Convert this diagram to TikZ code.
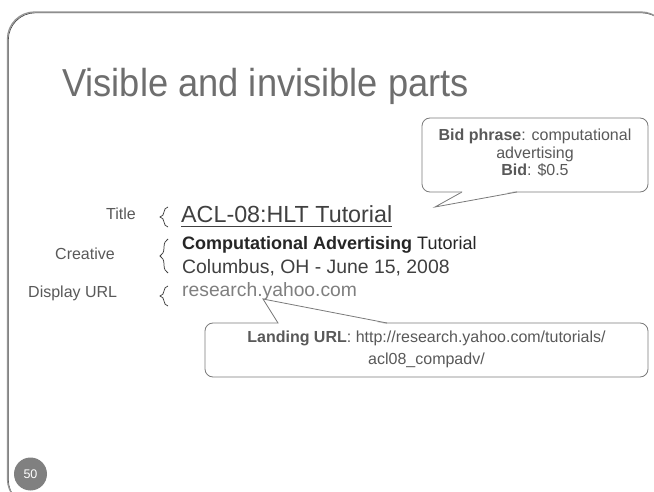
\documentclass[tikz,border=0pt]{standalone}
\usepackage{fontspec}
\usepackage{graphicx}
\setmainfont{Liberation Sans}
\usetikzlibrary{decorations.pathreplacing}
\definecolor{framecol}{HTML}{7A7A7A}
\definecolor{titlegray}{HTML}{6E6E6E}
\definecolor{lblgray}{HTML}{595959}
\definecolor{acltext}{HTML}{404040}
\definecolor{darktext}{HTML}{262626}
\definecolor{urlgray}{HTML}{7F7F7F}
\definecolor{numgray}{HTML}{808080}
\tikzset{
  lbl/.style={anchor=base west, inner sep=0pt, text=lblgray, font=\fontsize{16}{19}\selectfont},
  bodytxt/.style={anchor=base west, inner sep=0pt},
  bracestyle/.style={draw=acltext, line width=0.75pt, decorate, decoration={brace, amplitude=8pt, aspect=0.5}},
  calloutbox/.style={draw=framecol, line width=0.8pt, fill=white, rounded corners=8pt},
  callouttext/.style={align=center, inner sep=0pt, text=lblgray},
}
\begin{document}
\begin{tikzpicture}[x=1pt,y=-1pt]
\useasboundingbox (0,0) rectangle (654,492);
\clip (0,0) rectangle (654,492);
\fill[white] (0,0) rectangle (654,492);
% slide frame
\draw[black!75, line width=0.7pt, rounded corners=27pt] (8.3,12.8) rectangle (668.8,506.8);
\draw[framecol!80, line width=1.3pt, rounded corners=27pt] (7.5,12) rectangle (668,506);

% title
\node[anchor=base west, inner sep=0pt, text=titlegray, font=\fontsize{39}{44}\selectfont] (title) at (62,97) {\scalebox{0.93}[1]{Visible and invisible parts}};

% labels
\node[lbl] (ltitle) at (106,220) {Title};
\node[lbl] (lcreative) at (55,259) {Creative};
\node[lbl] (lurl) at (28,297) {Display URL};

% braces
\draw[bracestyle] (168,227) -- (168,207);
\draw[bracestyle] (168,273) -- (168,239);
\draw[bracestyle] (168,306) -- (168,286);

% ad texts
\node[bodytxt, text=acltext, font=\fontsize{23.3}{27}\selectfont] (acl) at (181,223) {ACL-08:HLT Tutorial};
\draw[acltext, line width=1.1pt] ([yshift=-3.5pt]acl.base west) -- ([yshift=-3.5pt]acl.base east);
\node[bodytxt, text=darktext, font=\fontsize{18}{21}\selectfont] (creative1) at (182,250) {\textbf{Computational Advertising} Tutorial};
\node[bodytxt, text=acltext, font=\fontsize{19.4}{22}\selectfont] (creative2) at (182,273) {Columbus, OH - June 15, 2008};
\node[bodytxt, text=urlgray, font=\fontsize{19.3}{22}\selectfont] (url) at (182,296) {research.yahoo.com};

% bid callout
\draw[calloutbox] (422,118) rectangle (648,192);
\fill[white] (463,191) -- (435,207) -- (516,191) -- cycle;
\draw[framecol, line width=0.8pt, line join=miter] (462,192) -- (435,207) -- (517,192);
\node[callouttext, font=\fontsize{16}{17.5}\selectfont] (bidtext) at (535,153) {\textbf{Bid phrase}: computational\\advertising\\\textbf{Bid}: \$0.5};

% landing callout
\draw[calloutbox] (205,323) rectangle (648,377);
\fill[white] (279,324) -- (263,299) -- (386,324) -- cycle;
\draw[framecol, line width=0.8pt, line join=miter] (278,323) -- (263,299) -- (387,323);
\node[callouttext, font=\fontsize{16}{22}\selectfont] (landtext) at (426.5,349.5) {\textbf{Landing URL}: http://research.yahoo.com/tutorials/\\acl08\_compadv/};

% page number
\node[circle, fill=numgray, minimum size=33pt, inner sep=0pt, text=white, font=\fontsize{12.5}{12.5}\selectfont] (pnum) at (30.5,474) {50};
\end{tikzpicture}
\end{document}
